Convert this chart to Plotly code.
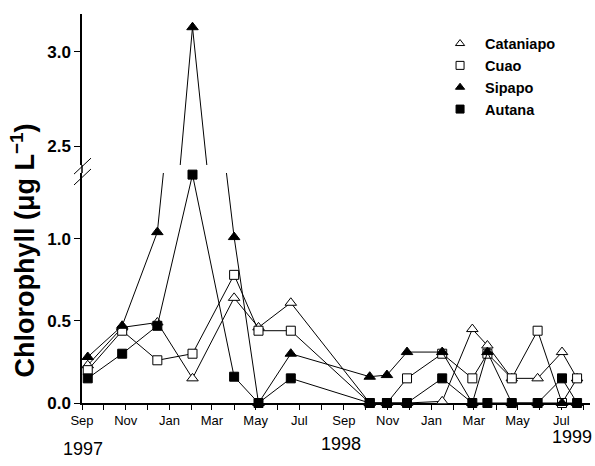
import plotly.graph_objects as go

# ---- data ----
dates = ["1997-09-09", "1997-10-27", "1997-12-15", "1998-02-02", "1998-04-01",
         "1998-05-05", "1998-06-19", "1998-10-07", "1998-10-31", "1998-11-28",
         "1999-01-16", "1999-02-27", "1999-03-20", "1999-04-23", "1999-05-29",
         "1999-07-02", "1999-07-23"]
cataniapo = [0.23, 0.46, 0.49, 0.15, 0.64, 0.46, 0.61, 0.0, 0.0, 0.0,
             0.01, 0.45, 0.35, 0.15, 0.15, 0.31, 0.15]
cuao = [0.20, 0.44, 0.26, 0.30, 0.78, 0.44, 0.44, 0.0, 0.0, 0.15,
        0.30, 0.15, 0.30, 0.15, 0.44, 0.0, 0.15]
sipapo = [0.28, 0.47, 1.04, 3.13, 1.01, 0.0, 0.30, 0.16, 0.17, 0.31,
          0.31, 0.0, 0.31, 0.0, 0.0, 0.0, 0.0]
autana = [0.15, 0.30, 0.47, 1.39, 0.16, 0.0, 0.15, 0.0, 0.0, 0.0,
          0.15, 0.0, 0.0, 0.0, 0.0, 0.15, 0.0]

series_names = ["Cataniapo", "Cuao", "Sipapo", "Autana"]
series_values = [cataniapo, cuao, sipapo, autana]
symbols = ["triangle-up", "square", "triangle-up", "square"]
fills = ["white", "white", "black", "black"]
sizes = [10, 9, 10, 9]

year_labels = ["1997", "1998"]
year_x = ["1997-09-03", "1998-08-28"]
year_y = [-0.118, -0.105]
last_year_label = "1999"

lower_ticks = [0.0, 0.5, 1.0]
upper_ticks = [2.5, 3.0]

FONT = "Liberation Sans, Arial, Helvetica, sans-serif"

fig = go.Figure()

# lower panel traces
for name, vals, sym, fc, sz in zip(series_names, series_values, symbols, fills, sizes):
    fig.add_trace(go.Scatter(
        x=dates, y=vals, mode="lines+markers", name=name, showlegend=False,
        line=dict(color="black", width=1),
        marker=dict(symbol=sym, color=fc, size=sz, line=dict(color="black", width=1)),
        cliponaxis=False, xaxis="x", yaxis="y"))

# upper panel (only Sipapo reaches it)
fig.add_trace(go.Scatter(
    x=dates, y=sipapo, mode="lines+markers", showlegend=False,
    line=dict(color="black", width=1),
    marker=dict(symbol="triangle-up", color="black", size=10, line=dict(color="black", width=1)),
    cliponaxis=True, xaxis="x", yaxis="y2"))

# legend entries (markers only)
for name, sym, fc in zip(series_names, symbols, fills):
    fig.add_trace(go.Scatter(
        x=[None], y=[None], mode="markers", name=name, showlegend=True,
        marker=dict(symbol=sym, color=fc, size=8, line=dict(color="black", width=1))))

d1 = 0.5913
d2 = 0.6118

fig.update_layout(
    width=595, height=466,
    margin=dict(l=82, r=5, t=14, b=63),
    paper_bgcolor="white", plot_bgcolor="white",
    font=dict(family=FONT, color="black"),
    xaxis=dict(
        type="date", range=["1997-09-01", "1999-08-10"],
        tick0="1997-09-01", dtick="M2", tickformat="%b",
        ticks="outside", ticklen=5, tickwidth=1, tickcolor="black",
        showline=True, linecolor="black", linewidth=1.5,
        showgrid=False, zeroline=False, anchor="y", layer="below traces",
        tickfont=dict(size=13, family=FONT),
        minor=dict(dtick="M1", ticks="outside", ticklen=5, tickcolor="black", showgrid=False),
    ),
    yaxis=dict(
        domain=[0, d1], range=[0, 1.40],
        tickvals=lower_ticks, ticktext=[f"{v:.1f}" for v in lower_ticks],
        ticks="outside", ticklen=6, tickcolor="black",
        showline=True, linecolor="black", linewidth=1.5,
        showgrid=False, zeroline=False, layer="below traces",
        tickfont=dict(size=17, family=FONT, weight="bold"),
    ),
    yaxis2=dict(
        domain=[d2, 1], range=[2.4, 3.2], anchor="x",
        tickvals=upper_ticks, ticktext=[f"{v:.1f}" for v in upper_ticks],
        ticks="outside", ticklen=6, tickcolor="black",
        showline=True, linecolor="black", linewidth=1.5,
        showgrid=False, zeroline=False, layer="below traces",
        tickfont=dict(size=17, family=FONT, weight="bold"),
    ),
    legend=dict(
        x=0.695, y=0.965, xanchor="left", yanchor="top",
        bgcolor="rgba(0,0,0,0)", borderwidth=0,
        font=dict(size=14.5, family=FONT, weight="bold"),
        itemwidth=40, tracegroupgap=0,
    ),
    showlegend=True,
)

# y axis title
fig.add_annotation(
    text="Chlorophyll (μg L<sup>−1</sup>)", textangle=-90,
    xref="paper", yref="paper", x=-0.118, y=0.392,
    xanchor="center", yanchor="middle", showarrow=False,
    font=dict(size=27, family=FONT, weight="bold"),
)

# year labels
for lab, xv, yv in zip(year_labels, year_x, year_y):
    fig.add_annotation(text=lab, xref="x", yref="paper", x=xv, y=yv,
                       xanchor="center", yanchor="middle", showarrow=False,
                       font=dict(size=18, family=FONT))
fig.add_annotation(text=last_year_label, xref="paper", yref="paper", x=1.0, y=-0.088,
                   xanchor="right", yanchor="middle", showarrow=False, xshift=4,
                   font=dict(size=18, family=FONT))

# axis continuity through the break + break marks
fig.add_shape(type="line", xref="paper", yref="paper", x0=0, x1=0, y0=d1, y1=d2,
              line=dict(color="black", width=1.5))
for yc in [0.609, 0.581]:
    fig.add_shape(type="line", xref="paper", yref="paper",
                  xsizemode="pixel", ysizemode="pixel", xanchor=0, yanchor=yc,
                  x0=-8, x1=9, y0=-8, y1=8,
                  line=dict(color="black", width=1))

fig.write_html("out.html")
